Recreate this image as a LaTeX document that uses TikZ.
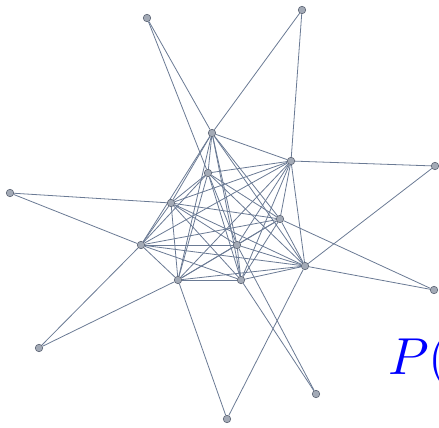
\documentclass[tikz,border=0pt]{standalone}
\usepackage{unicode-math}
\usetikzlibrary{backgrounds}
\definecolor{edgecol}{HTML}{6A7A94}
\definecolor{nodefill}{HTML}{A3AAB6}
\definecolor{nodedraw}{HTML}{5E6676}
\tikzset{
  vtx/.style={circle,fill=nodefill,draw=nodedraw,line width=0.6pt,inner sep=0pt,minimum size=7.5pt},
  edg/.style={draw=edgecol,line width=0.8pt}
}
\begin{document}
\begin{tikzpicture}[x=1pt,y=-1pt]
\useasboundingbox (0,0) rectangle (439,428);
% inner nodes
\node[vtx] (A) at (212,133) {};
\node[vtx] (B) at (291,161) {};
\node[vtx] (C) at (208,173) {};
\node[vtx] (D) at (171,203) {};
\node[vtx] (E) at (280,219) {};
\node[vtx] (F) at (141,245) {};
\node[vtx] (G) at (237,245) {};
\node[vtx] (H) at (305,266) {};
\node[vtx] (I) at (178,280) {};
\node[vtx] (J) at (241,280) {};
% outer nodes
\node[vtx] (O1) at (147,18) {};
\node[vtx] (O2) at (302,10) {};
\node[vtx] (O3) at (10,193) {};
\node[vtx] (O4) at (435,166) {};
\node[vtx] (O5) at (434,290) {};
\node[vtx] (O6) at (39,348) {};
\node[vtx] (O7) at (227,419) {};
\node[vtx] (O8) at (316,394) {};
\begin{scope}[on background layer]
\foreach \a/\b in {A/B,A/C,A/D,A/E,A/F,A/G,A/H,A/I,A/J,
  B/C,B/D,B/E,B/F,B/G,B/H,B/I,B/J,
  C/D,C/E,C/F,C/G,C/H,C/I,C/J,
  D/E,D/F,D/G,D/H,D/I,D/J,
  E/F,E/G,E/H,E/I,E/J,
  F/G,F/H,F/I,F/J,
  G/H,G/I,G/J,
  H/I,H/J,
  I/J,
  O1/A,O1/C,O2/A,O2/B,O3/D,O3/F,O4/B,O4/H,O5/H,O5/E,
  O6/F,O6/I,O7/I,O7/H,O8/G,O8/J}
  \draw[edg] (\a) -- (\b);
\end{scope}
\node[anchor=base west,inner sep=0pt,text=blue,font=\fontsize{52}{56}\selectfont] (P) at (388,374) {$P($};
\end{tikzpicture}
\end{document}
